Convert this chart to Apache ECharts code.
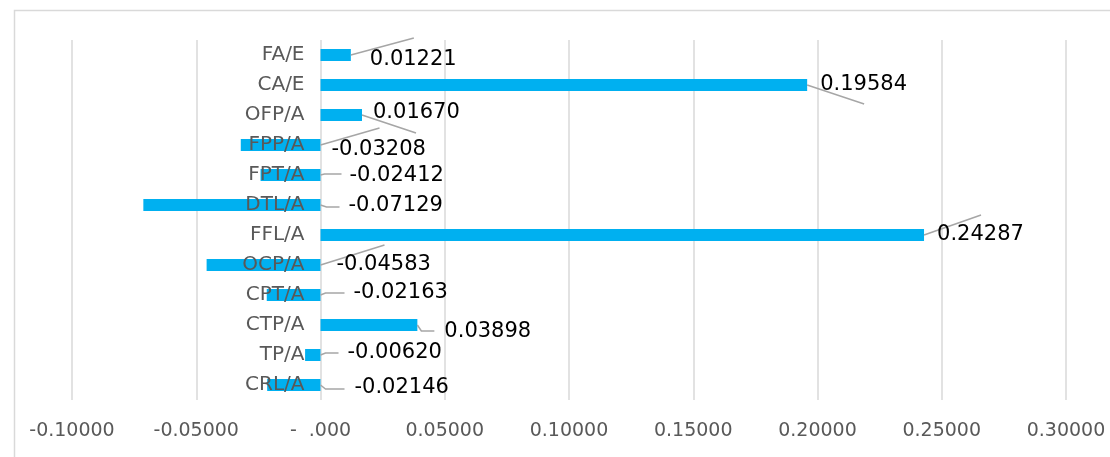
<!DOCTYPE html>
<html>
<head>
<meta charset="utf-8">
<script src="https://cdn.jsdelivr.net/npm/echarts@6/dist/echarts.min.js"></script>
<style>
  html, body { margin: 0; padding: 0; background: #ffffff; }
  #chart { width: 1110px; height: 457px; }
</style>
</head>
<body>
<div id="chart"></div>
<script>
// Ratio categories, listed top to bottom
const categories = ['FA/E', 'CA/E', 'OFP/A', 'FPP/A', 'FPT/A', 'DTL/A',
                    'FFL/A', 'OCP/A', 'CPT/A', 'CTP/A', 'TP/A', 'CRL/A'];
// Coefficient for each ratio
const values = [0.01221, 0.19584, 0.01670, -0.03208, -0.02412, -0.07129,
                0.24287, -0.04583, -0.02163, 0.03898, -0.00620, -0.02146];
// Value axis range and step
const axisMin = -0.1;
const axisMax = 0.3;
const axisStep = 0.05;

// Callout placement, in pixels from the bar's right edge:
// leader line points, then the left/middle anchor of the value text
const callouts = [
  { line: [[0, 0], [63, -17]],           text: [19, 5] },
  { line: [[0, 0], [57, 19]],            text: [13, 0] },
  { line: [[0, 0], [54, 18]],            text: [11, -2] },
  { line: [[0, 0], [59, -17]],           text: [11, 5] },
  { line: [[0, 0], [4, -1], [21, -1]],   text: [29, 1] },
  { line: [[0, 0], [6, 2], [19, 2]],     text: [28, 1] },
  { line: [[0, 0], [57, -20]],           text: [13, 0] },
  { line: [[0, 0], [64, -20]],           text: [16, 0] },
  { line: [[0, 0], [5, -2], [24, -2]],   text: [33, -2] },
  { line: [[0, 0], [4, 6], [17, 6]],     text: [27, 7] },
  { line: [[0, 0], [5, -2], [18, -2]],   text: [27, -2] },
  { line: [[0, 0], [5, 4], [24, 4]],     text: [34, 3] }
];

// Gap between the zero line and the right end of each category name
const categoryLabelGap = 16;

const chart = echarts.init(document.getElementById('chart'));

const calloutData = values.map((v, i) => [v, i]);

chart.setOption({
  animation: false,
  backgroundColor: '#ffffff',
  graphic: [{
    type: 'rect',
    shape: { x: 14.5, y: 10.5, width: 1120, height: 470 },
    style: { fill: null, stroke: '#D9D9D9', lineWidth: 1.5 },
    silent: true
  }],
  grid: {
    left: 72, right: 44, top: 40, bottom: 57,
    containLabel: false
  },
  xAxis: {
    type: 'value',
    min: axisMin,
    max: axisMax,
    interval: axisStep,
    axisLine: { show: false },
    axisTick: { show: false },
    splitLine: { show: true, lineStyle: { color: '#D9D9D9', width: 1.5 } },
    axisLabel: {
      margin: 22,
      color: '#595959',
      fontFamily: 'DejaVu Sans',
      fontSize: 19,
      align: 'center',
      formatter: v => Math.abs(v) < 1e-9 ? '-  .000' : v.toFixed(5)
    }
  },
  yAxis: {
    type: 'category',
    data: categories,
    inverse: true,
    axisLine: { show: false },
    axisTick: { show: false },
    splitLine: { show: false },
    axisLabel: { show: false }
  },
  series: [
    {
      type: 'bar',
      data: values,
      barWidth: 12,
      itemStyle: { color: '#00B0F0' },
      z: 2
    },
    {
      // Category names sit at the zero line, value callouts to the right of each bar
      type: 'custom',
      data: calloutData,
      z: 5,
      clip: false,
      silent: true,
      renderItem: function (params, api) {
        const v = api.value(0);
        const c = api.value(1);
        const zero = api.coord([0, c]);
        const base = api.coord([Math.max(v, 0), c]);
        const spec = callouts[params.dataIndex];
        const pts = spec.line.map(p => [base[0] + p[0], base[1] + p[1]]);
        return {
          type: 'group',
          children: [
            {
              type: 'text',
              style: {
                x: zero[0] - categoryLabelGap,
                y: zero[1],
                text: categories[c],
                fill: '#595959',
                font: '20px "DejaVu Sans"',
                textAlign: 'right',
                textVerticalAlign: 'middle',
                align: 'right',
                verticalAlign: 'middle'
              }
            },
            {
              type: 'polyline',
              shape: { points: pts },
              style: { stroke: '#A6A6A6', lineWidth: 1.5, fill: null }
            },
            {
              type: 'text',
              style: {
                x: base[0] + spec.text[0],
                y: base[1] + spec.text[1],
                text: v.toFixed(5),
                fill: '#000000',
                font: '21px "DejaVu Sans"',
                textAlign: 'left',
                textVerticalAlign: 'middle',
                align: 'left',
                verticalAlign: 'middle'
              }
            }
          ]
        };
      }
    }
  ]
});
</script>
</body>
</html>
